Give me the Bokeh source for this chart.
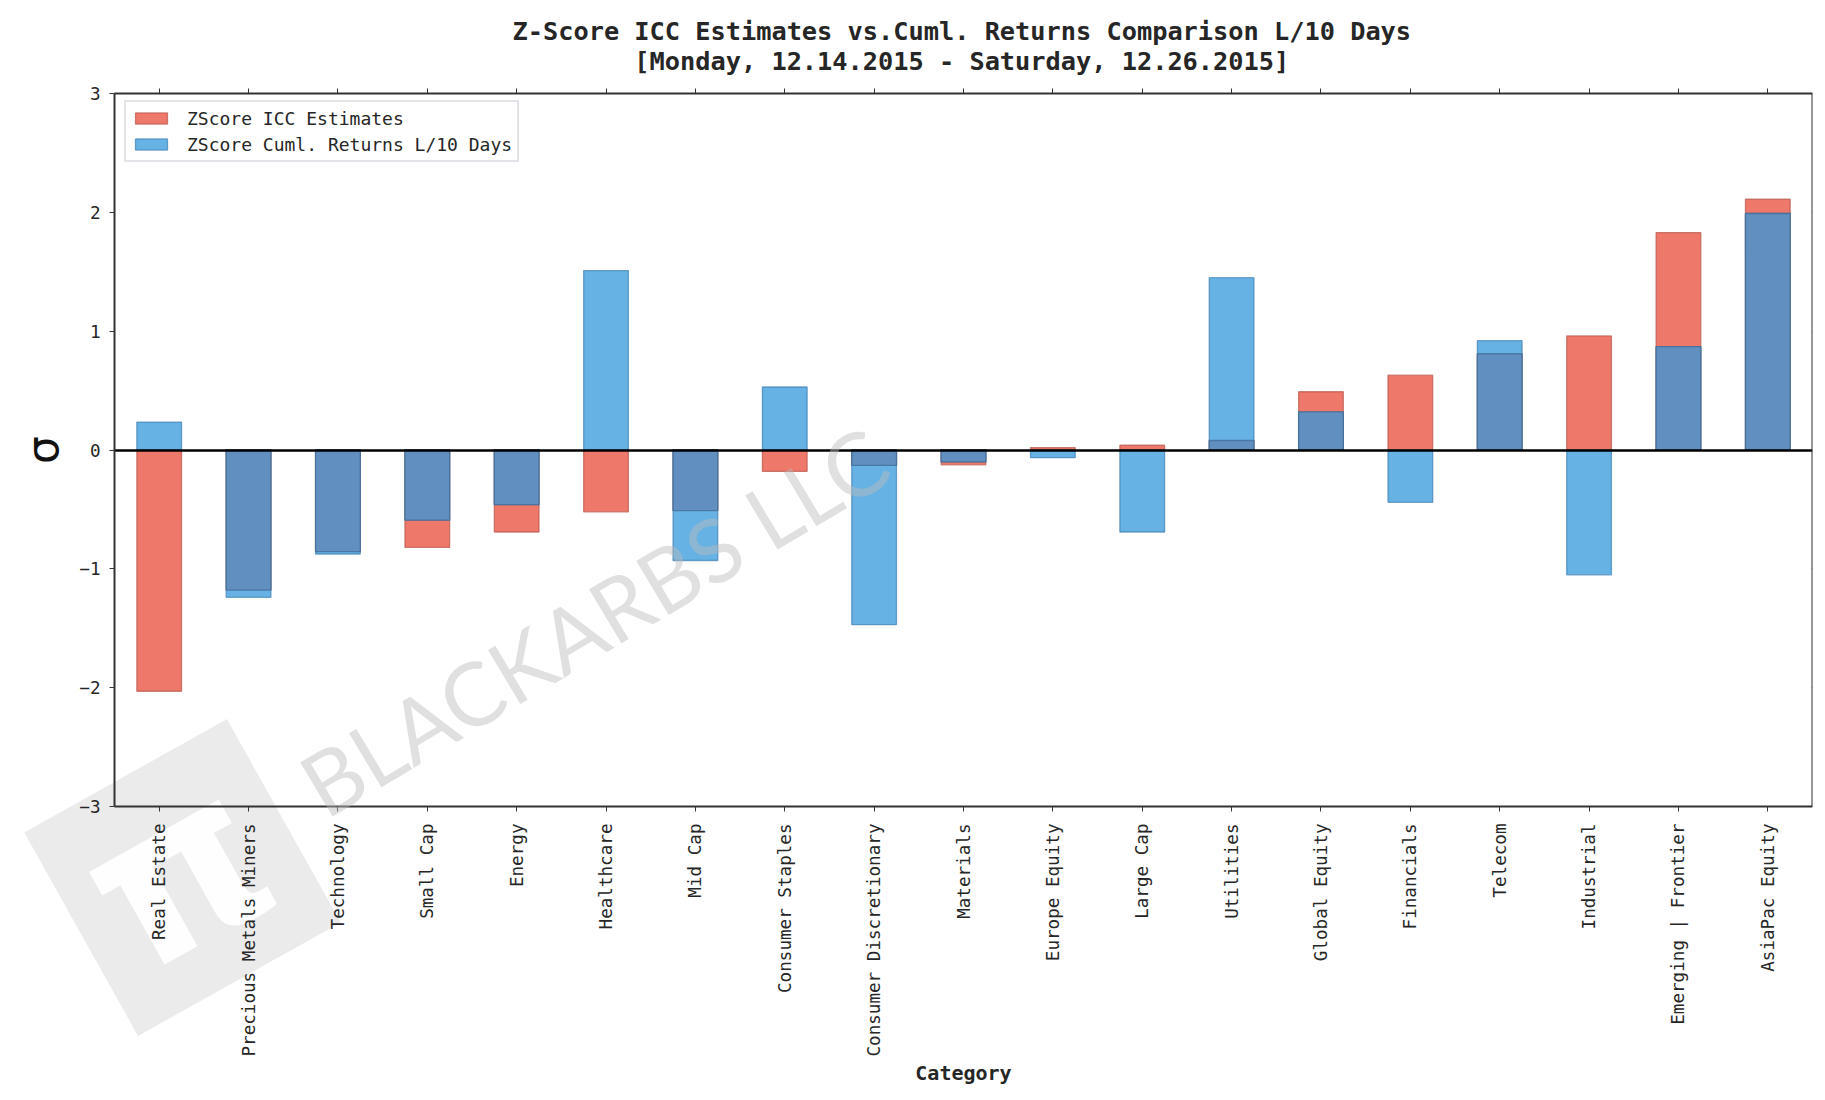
import math
from bokeh.plotting import figure
from bokeh.models import (Range1d, FixedTicker, Label, Title, Legend, LegendItem, LinearAxis)
from bokeh.embed import file_html
from bokeh.resources import INLINE

categories = ["Real Estate", "Precious Metals Miners", "Technology", "Small Cap", "Energy",
              "Healthcare", "Mid Cap", "Consumer Staples", "Consumer Discretionary",
              "Materials", "Europe Equity", "Large Cap", "Utilities", "Global Equity",
              "Financials", "Telecom", "Industrial", "Emerging | Frontier", "AsiaPac Equity"]
zscore_icc = [-2.03, -1.18, -0.855, -0.82, -0.69, -0.52, -0.51, -0.18, -0.13, -0.125,
              0.02, 0.04, 0.08, 0.49, 0.63, 0.81, 0.96, 1.83, 2.11]
zscore_ret = [0.235, -1.24, -0.875, -0.59, -0.46, 1.51, -0.93, 0.53, -1.47, -0.10,
              -0.065, -0.69, 1.45, 0.32, -0.44, 0.92, -1.05, 0.87, 1.99]
y_ticks = [-3, -2, -1, 0, 1, 2, 3]
title_line_1 = "Z-Score ICC Estimates vs.Cuml. Returns Comparison L/10 Days"
title_line_2 = "[Monday, 12.14.2015 - Saturday, 12.26.2015]"
legend_labels = ["ZScore ICC Estimates", "ZScore Cuml. Returns L/10 Days"]

idx = list(range(len(categories)))
x_lo, x_hi = -0.5, len(categories) - 0.5
y_lo, y_hi = -3, 3

# overlap of the two series (same sign): shown in a darker blue
ov_x, ov_top = [], []
for i, a, b in zip(idx, zscore_icc, zscore_ret):
    if a * b > 0:
        ov_x.append(i)
        ov_top.append(math.copysign(min(abs(a), abs(b)), a))

# layout (pixels): the frame spans the figure below the title so that the
# watermark can reach into the tick-label area; the axes sit at fixed locations
W, H = 1820, 1098
AX_L, AX_R, AX_T, AX_B = 114, 1812, 93, 806
FRAME_TOP = 80
px_x = (AX_R - AX_L) / (x_hi - x_lo)
px_y = (AX_B - AX_T) / (y_hi - y_lo)
x_start = x_lo - AX_L / px_x
y_start = y_lo - (H - AX_B) / px_y
y_end = y_hi + (AX_T - FRAME_TOP) / px_y

MONO = "DejaVu Sans Mono"
TXT = "#262626"
AX_COL = "#333333"

p = figure(x_range=Range1d(x_start, x_hi), y_range=Range1d(y_start, y_end),
           width=W, height=H, output_backend="svg", toolbar_location=None,
           x_axis_location=None, y_axis_location=None, title=None,
           min_border_left=0, min_border_right=W - AX_R, min_border_top=FRAME_TOP,
           min_border_bottom=0)
p.background_fill_color = "white"
p.border_fill_color = "white"
p.outline_line_color = None
p.xgrid.grid_line_color = None
p.ygrid.grid_line_color = None

# two-line title; the monospace second line is centred under the first with no-break spaces
pad = "\u00a0" * ((len(title_line_1) - len(title_line_2)) // 2)
p.add_layout(Title(text=title_line_1 + "\n" + pad + title_line_2, align="left", offset=512,
                   text_font=MONO, text_font_size="25.3px", text_font_style="bold",
                   text_color=TXT, text_line_height=1.06, standoff=8), "above")

# watermark logo (under everything)
logo_box = Label(x=182, y=H - 877, x_units="screen", y_units="screen", text="\u00a0",
                 text_align="center", text_baseline="middle", angle=0.51,
                 text_font_size="1px", background_fill_color="#ebebeb",
                 background_fill_alpha=1.0,
                 padding=dict(left=116, right=116, top=116, bottom=116), level="underlay")
p.add_layout(logo_box)
logo_pi = Label(x=176, y=H - 872, x_units="screen", y_units="screen", text="\u03c0",
                text_align="center", text_baseline="middle", angle=0.51,
                text_font="DejaVu Sans", text_font_style="bold",
                text_font_size="215px", text_color="white", text_alpha=0.95, level="underlay")
p.add_layout(logo_pi)

r_icc = p.vbar(x=idx, top=zscore_icc, bottom=0, width=0.5,
               fill_color="#ee786a", line_color="#b9554b", line_alpha=0.7, line_width=1.3)
r_ret = p.vbar(x=idx, top=zscore_ret, bottom=0, width=0.5,
               fill_color="#66b2e4", line_color="#3f7fb3", line_alpha=0.7, line_width=1.3)
p.vbar(x=ov_x, top=ov_top, bottom=0, width=0.5,
       fill_color="#6190c0", line_color="#3f6690", line_alpha=0.7, line_width=1.3)


def mk_axis(**kw):
    base = dict(axis_line_color=AX_COL, axis_line_width=2, major_tick_line_color=AX_COL,
                major_tick_out=5, major_tick_in=0, minor_tick_line_color=None,
                major_label_text_font=MONO, major_label_text_font_size="17.6px",
                major_label_text_color=TXT)
    base.update(kw)
    return LinearAxis(**base)


x_axis = mk_axis(fixed_location=y_lo, bounds=(x_lo, x_hi), ticker=FixedTicker(ticks=idx),
                 major_label_overrides={i: c for i, c in zip(idx, categories)},
                 major_label_orientation=math.pi / 2, major_label_standoff=12,
                 axis_label="Category", axis_label_text_font=MONO,
                 axis_label_text_font_size="20px", axis_label_text_font_style="bold",
                 axis_label_text_color=TXT, axis_label_standoff=1)
p.add_layout(x_axis, "below")

y_axis = mk_axis(fixed_location=x_lo, bounds=(y_lo, y_hi), ticker=FixedTicker(ticks=y_ticks),
                 major_label_overrides={t: str(t).replace("-", "\u2212") for t in y_ticks},
                 major_label_standoff=9, axis_label="\u03c3",
                 axis_label_text_font="DejaVu Sans", axis_label_text_font_size="44px",
                 axis_label_text_font_style="normal", axis_label_text_color="#111111",
                 axis_label_standoff=8)
p.add_layout(y_axis, "left")

top_axis = mk_axis(fixed_location=y_hi, bounds=(x_lo, x_hi), ticker=FixedTicker(ticks=idx),
                   major_label_text_color=None, major_label_text_font_size="1px")
p.add_layout(top_axis, "above")
right_axis = mk_axis(fixed_location=x_hi, bounds=(y_lo, y_hi),
                     ticker=FixedTicker(ticks=y_ticks),
                     major_label_text_color=None, major_label_text_font_size="1px")
p.add_layout(right_axis, "right")

zero_line = LinearAxis(fixed_location=0, bounds=(x_lo, x_hi), ticker=FixedTicker(ticks=[]),
                       axis_line_color="black", axis_line_width=2.5,
                       major_tick_line_color=None, minor_tick_line_color=None,
                       major_label_text_color=None, major_label_text_font_size="1px")
p.add_layout(zero_line, "below")

legend = Legend(items=[LegendItem(label=legend_labels[0], renderers=[r_icc]),
                       LegendItem(label=legend_labels[1], renderers=[r_ret])],
                location=(124, H - 162), padding=5, spacing=4,
                glyph_width=40, glyph_height=14, label_standoff=16, label_height=22,
                label_text_font=MONO, label_text_font_size="18px", label_text_color=TXT,
                border_line_color="#c8c8d6", border_line_width=2,
                background_fill_color="white", background_fill_alpha=1)
p.add_layout(legend)

mark = Label(x=593, y=H - 620, x_units="screen", y_units="screen", text="BLACKARBS LLC",
             text_align="center", text_baseline="middle", angle=0.54,
             text_font="Lato", text_font_size="88px", text_color="#bbbbbb",
             text_alpha=0.45)
p.add_layout(mark)

open("out.html", "w").write(file_html(p, INLINE))
